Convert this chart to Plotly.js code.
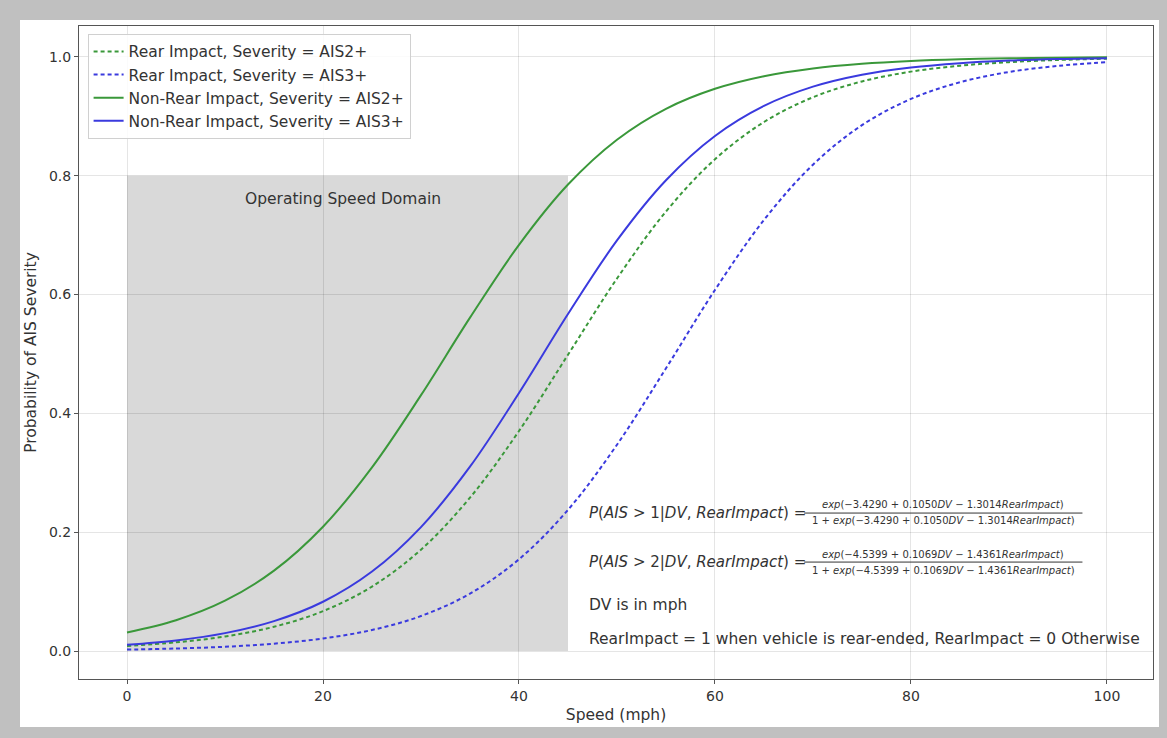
<!DOCTYPE html>
<html>
<head>
<meta charset="utf-8">
<script src="https://cdn.plot.ly/plotly-3.0.1.min.js"></script>
<style>
  html, body { margin: 0; padding: 0; background: #c0c0c0; width: 1167px; height: 738px; overflow: hidden; }
  #chart { position: absolute; left: 20px; top: 20px; width: 1139px; height: 707px; background: #fff; }
</style>
</head>
<body>
<div id="chart"></div>
<script>
// Speed (mph)
const speed = [0,5,10,15,20,25,30,35,40,45,50,55,60,65,70,75,80,85,90,95,100];
// Values
const rearAIS2 = [0.0087,0.0147,0.0246,0.0409,0.0672,0.1086,0.1707,0.2582,0.3704,0.4987,0.6270,0.7398,0.8278,0.8904,0.9321,0.9587,0.9752,0.9852,0.9912,0.9948,0.9969];
const rearAIS3 = [0.0025,0.0043,0.0073,0.0125,0.0211,0.0355,0.0590,0.0967,0.1545,0.2377,0.3473,0.4759,0.6078,0.7256,0.8186,0.8851,0.9293,0.9573,0.9746,0.9849,0.9911];
const nonRearAIS2 = [0.0314,0.0520,0.0848,0.1354,0.2093,0.3092,0.4307,0.5612,0.6837,0.7852,0.8607,0.9127,0.9464,0.9676,0.9806,0.9884,0.9931,0.9959,0.9976,0.9986,0.9992];
const nonRearAIS3 = [0.0106,0.0179,0.0302,0.0504,0.0830,0.1338,0.2087,0.3103,0.4344,0.5673,0.6911,0.7924,0.8669,0.9175,0.9499,0.9700,0.9822,0.9895,0.9938,0.9964,0.9979];
const seriesNames = [
  "Rear Impact, Severity = AIS2+",
  "Rear Impact, Severity = AIS3+",
  "Non-Rear Impact, Severity = AIS2+",
  "Non-Rear Impact, Severity = AIS3+"
];
const xTicks = [0,20,40,60,80,100];
const yTicks = [0.0,0.2,0.4,0.6,0.8,1.0];
const yTickText = ["0.0","0.2","0.4","0.6","0.8","1.0"];
const domainX = [0,45];
const domainY = [0,0.8];

const green = "#3a983a";
const blue = "#3a3ade";
const font = "DejaVu Sans, Verdana, sans-serif";

const traces = [
  {x: speed, y: rearAIS2, name: seriesNames[0], mode: "lines", line: {color: green, width: 2, dash: "4px,3px", shape: "spline"}},
  {x: speed, y: rearAIS3, name: seriesNames[1], mode: "lines", line: {color: blue, width: 2, dash: "4px,3px", shape: "spline"}},
  {x: speed, y: nonRearAIS2, name: seriesNames[2], mode: "lines", line: {color: green, width: 2, shape: "spline"}},
  {x: speed, y: nonRearAIS3, name: seriesNames[3], mode: "lines", line: {color: blue, width: 2, shape: "spline"}}
];

const txt = "#333";
const annotations = [
  {x: 22.0, y: 0.761, xref: "x", yref: "y", text: "Operating Speed Domain", showarrow: false, font: {family: font, size: 15.5, color: txt}},
  {x: 46.9, y: 0.2323, xref: "x", yref: "y", xanchor: "left", text: "<i>P</i>(<i>AIS</i> > 1|<i>DV</i>, <i>RearImpact</i>) =", showarrow: false, font: {family: font, size: 15, color: txt}},
  {x: 83.3, y: 0.246, xref: "x", yref: "y", text: "<i>exp</i>(−3.4290 + 0.1050<i>DV</i> − 1.3014<i>RearImpact</i>)", showarrow: false, font: {family: font, size: 10, color: txt}},
  {x: 83.3, y: 0.219, xref: "x", yref: "y", text: "1 + <i>exp</i>(−3.4290 + 0.1050<i>DV</i> − 1.3014<i>RearImpact</i>)", showarrow: false, font: {family: font, size: 10, color: txt}},
  {x: 46.9, y: 0.1498, xref: "x", yref: "y", xanchor: "left", text: "<i>P</i>(<i>AIS</i> > 2|<i>DV</i>, <i>RearImpact</i>) =", showarrow: false, font: {family: font, size: 15, color: txt}},
  {x: 83.3, y: 0.163, xref: "x", yref: "y", text: "<i>exp</i>(−4.5399 + 0.1069<i>DV</i> − 1.4361<i>RearImpact</i>)", showarrow: false, font: {family: font, size: 10, color: txt}},
  {x: 83.3, y: 0.136, xref: "x", yref: "y", text: "1 + <i>exp</i>(−4.5399 + 0.1069<i>DV</i> − 1.4361<i>RearImpact</i>)", showarrow: false, font: {family: font, size: 10, color: txt}},
  {x: 46.9, y: 0.0774, xref: "x", yref: "y", xanchor: "left", text: "DV is in mph", showarrow: false, font: {family: font, size: 15.5, color: txt}},
  {x: 46.9, y: 0.0202, xref: "x", yref: "y", xanchor: "left", text: "RearImpact = 1 when vehicle is rear-ended, RearImpact = 0 Otherwise", showarrow: false, font: {family: font, size: 15.5, color: txt}}
];

const shapes = [
  {type: "rect", xref: "x", yref: "y", x0: domainX[0], x1: domainX[1], y0: domainY[0], y1: domainY[1], fillcolor: "#d9d9d9", line: {width: 0}, layer: "below"},
  {type: "line", xref: "x", yref: "y", x0: 69.1, x1: 97.5, y0: 0.2323, y1: 0.2323, line: {color: txt, width: 1}},
  {type: "line", xref: "x", yref: "y", x0: 69.1, x1: 97.5, y0: 0.1498, y1: 0.1498, line: {color: txt, width: 1}}
];

const layout = {
  width: 1139, height: 707,
  margin: {l: 59, r: 6, t: 6, b: 48},
  paper_bgcolor: "#ffffff", plot_bgcolor: "#ffffff",
  font: {family: font, size: 14, color: txt},
  showlegend: true,
  legend: {x: 0.008, y: 0.988, xanchor: "left", yanchor: "top", bgcolor: "rgba(255,255,255,0.85)", bordercolor: "#d0d0d0", borderwidth: 1, font: {family: font, size: 15.5, color: txt}},
  xaxis: {
    range: [-4.9, 104.7], tickvals: xTicks, ticks: "outside", ticklen: 4, tickcolor: "#555",
    showline: true, linecolor: "#555", linewidth: 1, mirror: true,
    showgrid: true, gridcolor: "rgba(0,0,0,0.1)", zeroline: false,
    tickfont: {family: font, size: 14, color: txt},
    title: {text: "Speed (mph)", font: {family: font, size: 15.5, color: txt}, standoff: 6}
  },
  yaxis: {
    range: [-0.047, 1.052], tickvals: yTicks, ticktext: yTickText, ticks: "outside", ticklen: 4, tickcolor: "#555",
    showline: true, linecolor: "#555", linewidth: 1, mirror: true,
    showgrid: true, gridcolor: "rgba(0,0,0,0.1)", zeroline: false,
    tickfont: {family: font, size: 14, color: txt},
    title: {text: "Probability of AIS Severity", font: {family: font, size: 15.5, color: txt}, standoff: 8}
  },
  annotations: annotations,
  shapes: shapes
};

Plotly.newPlot("chart", traces, layout, {displayModeBar: false, staticPlot: true});
</script>
</body>
</html>
